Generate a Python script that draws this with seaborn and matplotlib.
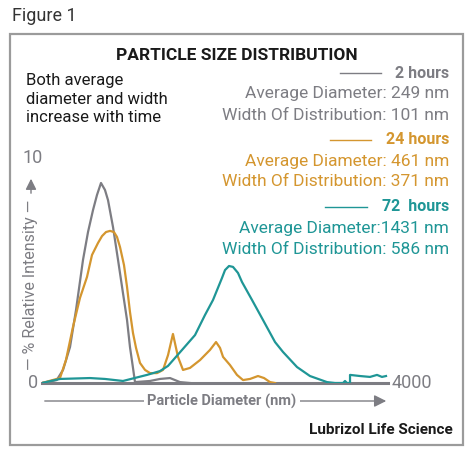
import numpy as np
import pandas as pd
import seaborn as sns
import matplotlib.pyplot as plt
from matplotlib.patches import Rectangle

# Data (diameter in nm, relative intensity in %)
gray_x = [0, 170, 243, 324, 393, 474, 532, 590, 636, 682, 728, 763, 821, 879, 936, 983, 1017, 1052,
          1075, 1249, 1364, 1480, 1595, 1711]
gray_y = [0, 0.13, 0.58, 1.6, 3.24, 5.47, 6.71, 7.69, 8.36, 8.89, 8.58, 8.13, 6.93, 5.47, 4.0, 2.8, 1.6, 0.67,
          0.04, 0.09, 0.18, 0.22, 0.04, 0]

orange_x = [0, 208, 277, 358, 439, 520, 578, 647, 694, 740, 786, 832, 867, 902, 948, 983, 1017, 1052,
            1087, 1133, 1191, 1249, 1330, 1399, 1457, 1514, 1572, 1630, 1711, 1827, 1942, 2012, 2058,
            2093, 2173, 2254, 2324, 2405, 2497, 2567, 2636, 2694]
orange_y = [0, 0.22, 1.02, 2.49, 3.78, 4.71, 5.69, 6.22, 6.53, 6.71, 6.76, 6.71, 6.49, 6.04, 5.24, 4.27, 3.16, 2.22,
            1.56, 0.89, 0.58, 0.44, 0.44, 0.58, 1.24, 2.18, 1.16, 0.58, 0.67, 1.02, 1.47, 1.82, 1.56,
            1.16, 0.8, 0.36, 0.13, 0.18, 0.31, 0.22, 0.04, 0]

teal_x = [0, 208, 555, 728, 936, 1214, 1364, 1457, 1619, 1769, 1884, 1977, 2081, 2116, 2162, 2208, 2266,
          2312, 2428, 2555, 2694, 2786, 2948, 3098, 3295, 3387, 3480, 3503, 3526, 3561, 3561, 3676, 3792,
          3873, 3930, 3977]
teal_y = [0, 0.18, 0.22, 0.18, 0.09, 0.36, 0.53, 0.76, 1.47, 2.13, 3.02, 3.69, 4.67, 5.02, 5.2, 5.16, 4.89,
          4.49, 3.69, 2.8, 1.82, 1.38, 0.71, 0.31, 0.04, 0, 0, 0.09, 0, 0, 0.36, 0.31, 0.27,
          0.36, 0.27, 0.31]

series = ['2 hours', '24 hours', '72  hours']
avg_diam = ['Average Diameter: 249 nm', 'Average Diameter: 461 nm', 'Average Diameter:1431 nm']
width_dist = ['Width Of Distribution: 101 nm', 'Width Of Distribution: 371 nm', 'Width Of Distribution: 586 nm']
colors = ['#7d7d83', '#d4962f', '#1f9696']

df = pd.concat([
    pd.DataFrame({'x': gray_x, 'y': gray_y, 'time': series[0]}),
    pd.DataFrame({'x': orange_x, 'y': orange_y, 'time': series[1]}),
    pd.DataFrame({'x': teal_x, 'y': teal_y, 'time': series[2]}),
])

W, H = 474, 455
def fx(x):
    return x / W
def fy(y):
    return 1 - y / H

font = ['Roboto', 'DejaVu Sans']
gray = '#7d7d83'

fig = plt.figure(figsize=(4.74, 4.55), dpi=100)
fig.patch.set_facecolor('white')

# outer frame
fig.patches.append(Rectangle((fx(10), fy(445)), fx(463) - fx(10), fy(34) - fy(445),
                             transform=fig.transFigure, fill=False, edgecolor='#9b9b9b', lw=1.6))

ax = fig.add_axes([fx(42), fy(383), fx(388) - fx(42), fy(158) - fy(383)])
sns.lineplot(data=df, x='x', y='y', hue='time', palette=colors, sort=False, estimator=None,
             lw=1.6, legend=False, ax=ax)
ax.set_xlim(0, 4000)
ax.set_ylim(0, 10)
ax.set_xticks([])
ax.set_yticks([])
ax.set_xlabel('')
ax.set_ylabel('')
for s in ['top', 'left', 'right']:
    ax.spines[s].set_visible(False)
ax.spines['bottom'].set_color(gray)
ax.spines['bottom'].set_linewidth(2.2)
ax.spines['bottom'].set_zorder(0)
ax.patch.set_alpha(0)

fig.text(fx(12), fy(16), 'Figure 1', fontsize=13, color='#333333', va='center', family=font)
fig.text(fx(237), fy(55), 'PARTICLE SIZE DISTRIBUTION', fontsize=12.5, fontweight='bold',
         color='#1a1a1a', ha='center', va='center', family=font)
fig.text(fx(26), fy(99), 'Both average\ndiameter and width\nincrease with time', fontsize=12,
         color='#1a1a1a', va='center', linespacing=1.3, family=font)

# legend block
head_y = [73, 140, 207]
line_x = [(340, 381), (330, 371), (325, 367)]
for i in range(3):
    y0 = head_y[i]
    fig.text(fx(449), fy(y0), series[i], fontsize=11.5, fontweight='bold', color=colors[i],
             ha='right', va='center', family=font)
    fig.text(fx(449), fy(y0 + 21), avg_diam[i], fontsize=12.5, color=colors[i],
             ha='right', va='center', family=font)
    fig.text(fx(449), fy(y0 + 42), width_dist[i], fontsize=12.5, color=colors[i],
             ha='right', va='center', family=font)
    fig.add_artist(plt.Line2D([fx(line_x[i][0]), fx(line_x[i][1])], [fy(y0), fy(y0)],
                              transform=fig.transFigure, color=colors[i], lw=1))

# axis annotations
fig.text(fx(33), fy(383), '0', fontsize=13, color=gray, ha='center', va='center', family=font)
fig.text(fx(33), fy(158), '10', fontsize=13, color=gray, ha='center', va='center', family=font)
fig.text(fx(392), fy(383), '4000', fontsize=13, color=gray, ha='left', va='center', family=font)

fig.text(fx(31), fy(285), '— % Relative Intensity —', fontsize=11.5, color=gray, rotation=90,
         ha='center', va='center', family=font)
ax.annotate('', xy=(fx(31), fy(176)), xytext=(fx(31), fy(196)), xycoords='figure fraction',
            arrowprops=dict(arrowstyle='-|>', color=gray, lw=1, mutation_scale=16))

ax.annotate('', xy=(fx(389), fy(401)), xytext=(fx(42), fy(401)), xycoords='figure fraction',
            arrowprops=dict(arrowstyle='-|>', color=gray, lw=1, mutation_scale=18))
fig.text(fx(222), fy(401), 'Particle Diameter (nm)', fontsize=10.5, fontweight='bold', color=gray,
         ha='center', va='center', family=font,
         bbox=dict(facecolor='white', edgecolor='none', pad=2.5))

fig.text(fx(453), fy(430), 'Lubrizol Life Science', fontsize=11, fontweight='bold', color='#1a1a1a',
         ha='right', va='center', family=font)

fig.savefig('out.png', dpi=100)
